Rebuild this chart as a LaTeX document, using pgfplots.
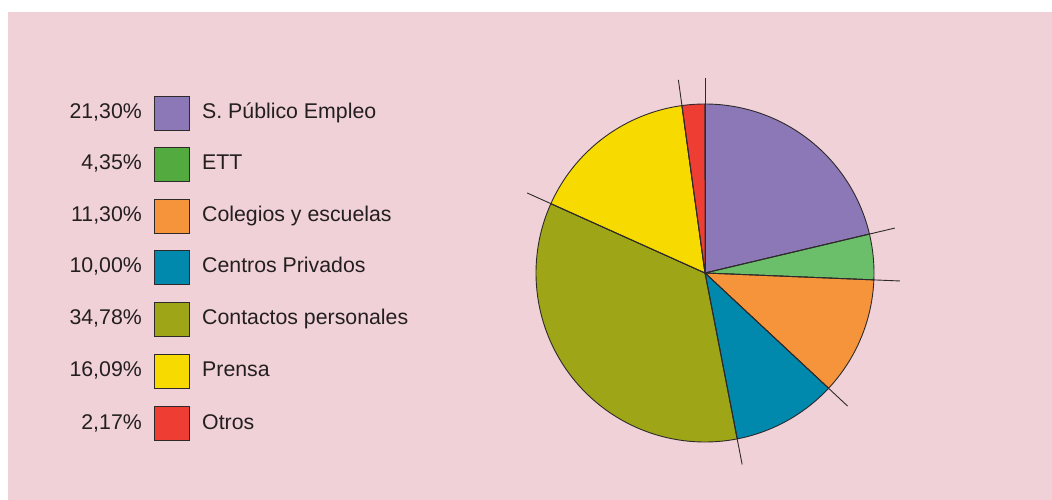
\documentclass[border=0pt]{standalone}
\usepackage{pgfplots}
\pgfplotsset{compat=1.18}
\usepackage{fontspec}
\setmainfont{Liberation Sans}
\definecolor{bg}{HTML}{F0D1D7}
\definecolor{edge}{HTML}{2E2A2B}
\definecolor{txt}{HTML}{231F20}
\definecolor{cPur}{HTML}{8C78B6}
\definecolor{cGrnPie}{HTML}{6BBF6A}
\definecolor{cGrn}{HTML}{53AB40}
\definecolor{cOra}{HTML}{F5943A}
\definecolor{cTea}{HTML}{0088AD}
\definecolor{cOli}{HTML}{9EA618}
\definecolor{cYel}{HTML}{F6DA00}
\definecolor{cRed}{HTML}{EE3D33}
% data (percent)
\def\pA{21.30}\def\pB{4.35}\def\pC{11.30}\def\pD{10.00}\def\pE{34.78}\def\pF{16.09}\def\pG{2.17}
\pgfmathsetmacro\cA{\pA}
\pgfmathsetmacro\cB{\cA+\pB}
\pgfmathsetmacro\cC{\cB+\pC}
\pgfmathsetmacro\cD{\cC+\pD}
\pgfmathsetmacro\cE{\cD+\pE}
\pgfmathsetmacro\cF{\cE+\pF}
\pgfmathsetmacro\cG{\cF+\pG}
\newcommand\slice[3]{\addplot[fill=#1, draw=edge, line width=0.9pt, line join=round, samples=120, domain=#2:#3] ({705+169*sin(3.6*x)},{273-169*cos(3.6*x)}) -- (axis cs:705,273) -- cycle;}
\newcommand\spoke[1]{\addplot[draw=edge, line width=0.9pt, samples=2, domain=0:195] ({705+x*sin(3.6*#1)},{273-x*cos(3.6*#1)});}
\newcommand\legrow[4]{%
  \draw[fill=#1, draw=edge, line width=0.9pt] (axis cs:154.5,#2-17) rectangle (axis cs:189,#2+17);
  \node[anchor=base east, inner sep=0pt, text=txt, font=\fontsize{21.3}{25}\selectfont] at (axis cs:142,#2+5.3) {#3};
  \node[anchor=base west, inner sep=0pt, text=txt, font=\fontsize{21.3}{25}\selectfont] at (axis cs:202,#2+5.3) {#4};
}
\begin{document}
\begin{tikzpicture}
\begin{axis}[width=1052pt, height=500pt, scale only axis, xmin=0, xmax=1052, ymin=0, ymax=500, y dir=reverse, hide axis, clip=false]
\fill[white] (axis cs:0,0) rectangle (axis cs:1052,500);
\fill[bg] (axis cs:8,12) rectangle (axis cs:1052,500);
\slice{cPur}{0}{\cA}
\slice{cGrnPie}{\cA}{\cB}
\slice{cOra}{\cB}{\cC}
\slice{cTea}{\cC}{\cD}
\slice{cOli}{\cD}{\cE}
\slice{cYel}{\cE}{\cF}
\slice{cRed}{\cF}{\cG}
\spoke{0}
\spoke{\cA}
\spoke{\cB}
\spoke{\cC}
\spoke{\cD}
\spoke{\cE}
\spoke{\cF}
\legrow{cPur}{113}{21,30\%}{S. Público Empleo}
\legrow{cGrn}{164.5}{4,35\%}{ETT}
\legrow{cOra}{216.2}{11,30\%}{Colegios y escuelas}
\legrow{cTea}{267.5}{10,00\%}{Centros Privados}
\legrow{cOli}{319.5}{34,78\%}{Contactos personales}
\legrow{cYel}{371.2}{16,09\%}{Prensa}
\legrow{cRed}{423.7}{2,17\%}{Otros}
\end{axis}
\end{tikzpicture}
\end{document}
